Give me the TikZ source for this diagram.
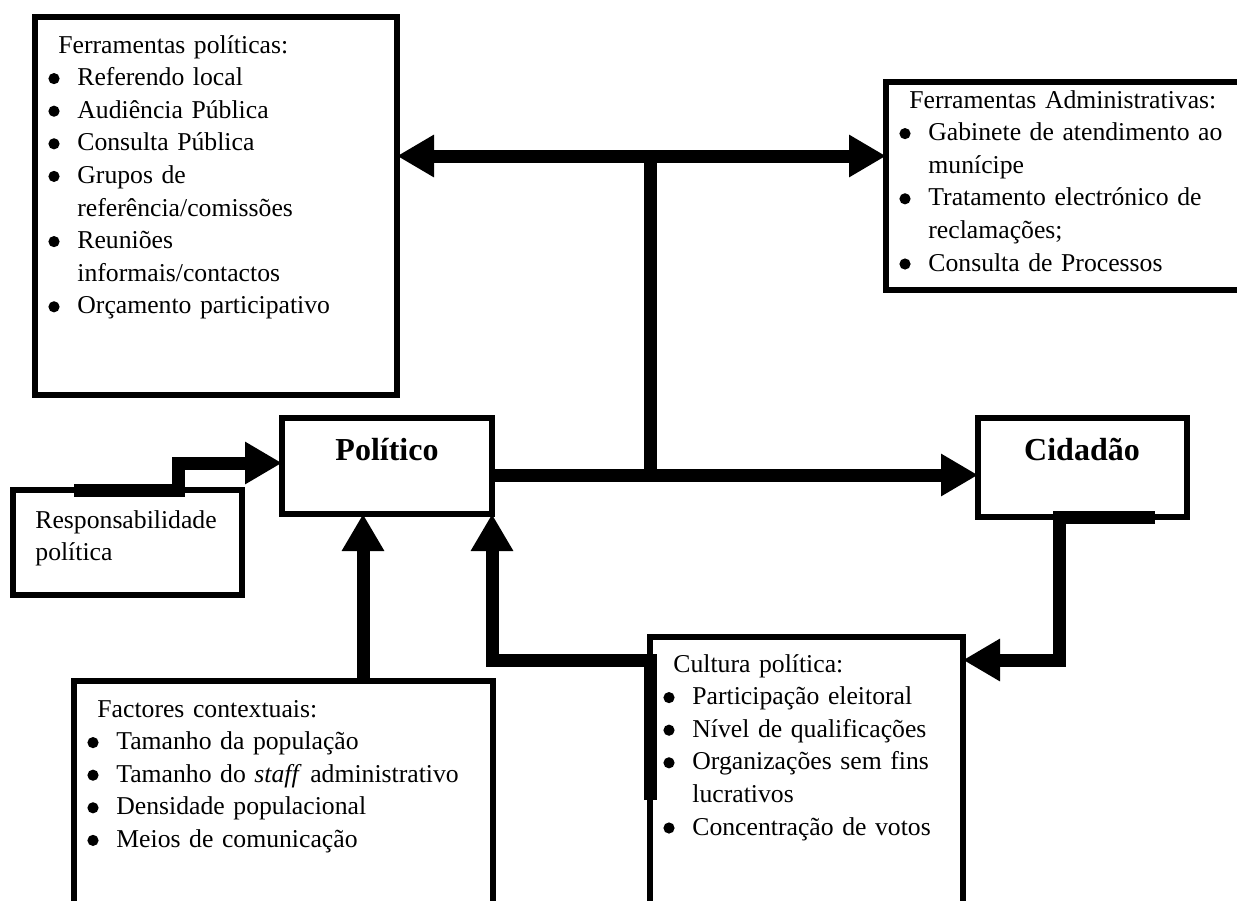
\documentclass[tikz,border=0pt]{standalone}
\usepackage{fontspec}
\setmainfont{Liberation Serif}
\usetikzlibrary{arrows.meta,positioning}
\newcommand{\bl}{\makebox[14.5pt][l]{\tikz[baseline=0pt]\fill (2.8pt,3.5pt) circle (2.8pt);}}
\newcommand{\hd}{\hspace*{5pt}}
\newcommand{\cn}{\hspace*{14.5pt}}

\begin{document}
\begin{tikzpicture}[
    x=0.5pt, y=-0.5pt,
    box/.style={draw, line width=3.2pt, inner sep=0pt, outer sep=0pt, anchor=north west},
    txt/.style={anchor=base west, inner sep=0pt, text width=210pt, align=left, font=\fontsize{12.85}{16.3}\selectfont},
    ttl/.style={anchor=base, inner sep=0pt, font=\fontsize{16}{19}\selectfont\bfseries},
    thk/.style={line width=6.5pt},
    tip/.tip={Triangle[length=18.5pt,width=20pt]},
    arr/.style={thk, -tip}
]
    \useasboundingbox (0,0) rectangle (1237,900);
    \clip (0,0) rectangle (1237,900);

    \node[box, minimum width=181pt, minimum height=189pt] (ferrP) at (35,17) {};
    \node[box, minimum width=179.5pt, minimum height=104pt] (ferrA) at (886,82) {};
    \node[box, minimum width=105pt, minimum height=48pt] (polit) at (282,418) {};
    \node[box, minimum width=104.5pt, minimum height=49.5pt] (cid) at (978,418) {};
    \node[box, minimum width=114.5pt, minimum height=52.5pt] (resp) at (13,490) {};
    \node[box, minimum width=209.5pt, minimum height=112pt] (fact) at (74,681) {};
    \node[box, minimum width=156.5pt, minimum height=134pt] (cult) at (650,637) {};

    \node[txt] (ferrPT) at (48,53) {\hd Ferramentas políticas:\\ \bl Referendo local\\ \bl Audiência Pública\\ \bl Consulta Pública\\ \bl Grupos de\\ \cn referência/comissões\\ \bl Reuniões\\ \cn informais/contactos\\ \bl Orçamento participativo};
    \node[txt] (ferrAT) at (899,108) {\hd Ferramentas Administrativas:\\ \bl Gabinete de atendimento ao\\ \cn munícipe\\ \bl Tratamento electrónico de\\ \cn reclamações;\\ \bl Consulta de Processos};
    \node[txt] (factT) at (87,717) {\hd Factores contextuais:\\ \bl Tamanho da população\\ \bl Tamanho do \textit{staff} administrativo\\ \bl Densidade populacional\\ \bl Meios de comunicação};
    \node[txt] (cultT) at (663,672) {\hd Cultura política:\\ \bl Participação eleitoral\\ \bl Nível de qualificações\\ \bl Organizações sem fins\\ \cn lucrativos\\ \bl Concentração de votos};
    \node[txt] (respT) at (35,528) {Responsabilidade\\ política};
    \node[ttl] (politT) at (387,460) {Político};
    \node[ttl] (cidT) at (1082,460) {Cidadão};

    \coordinate (hub) at (650,156);
    \coordinate (jn) at (650,475);
    \coordinate (fu) at (363,600);

    \draw[thk, tip-tip] (ferrP.east |- hub) -- (ferrA.west |- hub);
    \draw[thk] (hub) -- (jn);
    \draw[arr] (polit.east |- jn) -- (cid.west |- jn);
    \draw[arr] ([xshift=30.5pt]resp.north west) -- ([xshift=82.75pt]resp.north west) |- ([yshift=1.5pt]polit.west);
    \draw[arr] (fu |- fact.north) -- (fu |- polit.south);
    \draw[arr] ([yshift=-81.5pt]cult.north west) -- ([yshift=-11.5pt]cult.north west) -| (polit.south east);
    \draw[arr] ([xshift=88.5pt]cid.south west) -- ([xshift=40.5pt]cid.south west) |- ([yshift=-11.5pt]cult.north east);
\end{tikzpicture}
\end{document}
